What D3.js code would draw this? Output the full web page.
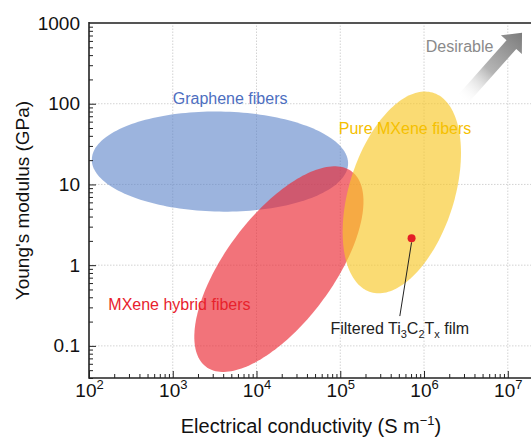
<!DOCTYPE html>
<html><head><meta charset="utf-8">
<script src="https://cdn.jsdelivr.net/npm/d3@7"></script>
<style>body{margin:0;background:#fff}svg{display:block;font-family:"Liberation Sans",Arial,Helvetica,sans-serif}</style>
</head><body><svg id="c" width="531" height="438"></svg>
<script>
// ---- data ----
const xTickValues = [1e2, 1e3, 1e4, 1e5, 1e6, 1e7];
const xTickExponents = ["2", "3", "4", "5", "6", "7"];
const yTickValues = [0.1, 1, 10, 100, 1000];
const yTickLabels = ["0.1", "1", "10", "100", "1000"];

const regionNames = ["Graphene fibers", "MXene hybrid fibers", "Pure MXene fibers"];
const regionCenterX = [3660, 18500, 5.43e5];      // S m-1
const regionCenterY = [19.2, 0.893, 7.96];        // GPa
const regionMajorDecades = [1.53, 1.49, 1.29];
const regionMinorDecades = [0.62, 0.65, 0.63];
const regionAngleDeg = [-1, 54.8, 73.5];
const regionLabelX = [1000, 170, 9.6e4];
const regionLabelY = [100, 0.278, 42];

const filmName = ["Filtered Ti", "3", "C", "2", "T", "x", " film"];
const filmX = 7.1e5, filmY = 2.15;
const filmLabelX = 5.14e5, filmLabelY = 0.14, filmLeaderEndY = 0.234;

const desirableLabel = "Desirable";
const desirableX = 1.05e6, desirableY = 438;
const arrowTail = [10 ** 6.45, 10 ** 2.04];
const arrowTip = [10 ** 7.17, 10 ** 2.88];

// ---- styles ----
const regionFill = ["rgb(90,130,200)", "rgb(235,40,50)", "rgb(247,200,40)"];
const regionOpacity = [0.6, 0.65, 0.65];
const regionLabelColors = ["#4d6ebf", "#e8222c", "#f5c000"];

const svg = d3.select("#c");
const W = 531, H = 438;
const x = d3.scaleLog().domain([1e2, 2e7]).range([89, 533]);
const y = d3.scaleLog().domain([0.04, 1000]).range([378, 23]);
const [x0, x1] = x.range(), [y0, y1] = y.range();

// grid
const grid = svg.append("g");
grid.selectAll("line.v").data(xTickValues.filter(v => v > 1e2)).join("line")
  .attr("x1", d => x(d)).attr("x2", d => x(d)).attr("y1", y0).attr("y2", y1)
  .attr("stroke", "#c8c8c8").attr("stroke-width", 0.8).attr("stroke-dasharray", "1.5,1.5");
grid.selectAll("line.h").data(yTickValues.filter(v => v < 1000)).join("line")
  .attr("y1", d => y(d)).attr("y2", d => y(d)).attr("x1", x0).attr("x2", W)
  .attr("stroke", "#c8c8c8").attr("stroke-width", 0.8).attr("stroke-dasharray", "1.5,1.5");

// ellipses
const line = d3.line().curve(d3.curveLinearClosed);
regionNames.forEach((n, i) => {
  const cx = Math.log10(regionCenterX[i]), cy = Math.log10(regionCenterY[i]);
  const a = regionMajorDecades[i], b = regionMinorDecades[i];
  const th = regionAngleDeg[i] * Math.PI / 180;
  const pts = d3.range(0, 180).map(k => {
    const t = k / 180 * 2 * Math.PI;
    const lx = cx + a * Math.cos(t) * Math.cos(th) - b * Math.sin(t) * Math.sin(th);
    const ly = cy + a * Math.cos(t) * Math.sin(th) + b * Math.sin(t) * Math.cos(th);
    return [x(10 ** lx), y(10 ** ly)];
  });
  svg.append("path").attr("d", line(pts)).attr("fill", regionFill[i]).attr("fill-opacity", regionOpacity[i]);
});

// region labels
svg.selectAll("text.rl").data(regionNames).join("text")
  .attr("x", (d, i) => x(regionLabelX[i])).attr("y", (d, i) => y(regionLabelY[i]))
  .attr("fill", (d, i) => regionLabelColors[i]).attr("font-size", 16).text(d => d);

// film point
svg.append("line").attr("x1", x(filmX)).attr("y1", y(filmY) + 4)
  .attr("x2", x(filmLabelX)).attr("y2", y(filmLeaderEndY))
  .attr("stroke", "#222").attr("stroke-width", 1);
svg.append("circle").attr("cx", x(filmX)).attr("cy", y(filmY)).attr("r", 4).attr("fill", "#e41e26");
const ft = svg.append("text").attr("x", x(filmLabelX)).attr("y", y(filmLabelY))
  .attr("text-anchor", "middle").attr("font-size", 16).attr("fill", "#222");
filmName.forEach((s, i) => {
  const sub = i % 2 === 1 && i < 6;
  ft.append("tspan").attr("font-size", sub ? 11 : 16).attr("dy", sub ? 4 : (i > 0 ? -4 : 0)).text(s);
});

// desirable arrow
const grad = svg.append("defs").append("linearGradient").attr("id", "ag")
  .attr("gradientUnits", "userSpaceOnUse")
  .attr("x1", x(arrowTail[0])).attr("y1", y(arrowTail[1]))
  .attr("x2", x(arrowTip[0])).attr("y2", y(arrowTip[1]));
grad.append("stop").attr("offset", 0).attr("stop-color", "#ffffff").attr("stop-opacity", 0);
grad.append("stop").attr("offset", 0.45).attr("stop-color", "#b5b5b5");
grad.append("stop").attr("offset", 1).attr("stop-color", "#7c7c7c");
{
  const tx = x(arrowTail[0]), ty = y(arrowTail[1]), hx = x(arrowTip[0]), hy = y(arrowTip[1]);
  const L = Math.hypot(hx - tx, hy - ty), ux = (hx - tx) / L, uy = (hy - ty) / L, px = -uy, py = ux;
  const sw = 6.5, hw = 14, hl = 16;
  const bx = hx - ux * hl, by = hy - uy * hl;
  const P = [[tx + px * sw, ty + py * sw], [bx + px * sw, by + py * sw], [bx + px * hw, by + py * hw], [hx, hy],
    [bx - px * hw, by - py * hw], [bx - px * sw, by - py * sw], [tx - px * sw, ty - py * sw]];
  svg.append("path").attr("d", line(P)).attr("fill", "url(#ag)");
}
svg.append("text").attr("x", x(desirableX)).attr("y", y(desirableY)).attr("font-size", 16)
  .attr("fill", "#8a8a8a").text(desirableLabel);

// axes
const minorX = x.ticks().filter(v => !xTickValues.includes(v) && v < 2e7);
const minorY = y.ticks().filter(v => !yTickValues.some(t => Math.abs(t - v) / v < 1e-9));
const gx = svg.append("g").attr("transform", `translate(0,${y0})`);
gx.call(d3.axisBottom(x).tickValues(minorX).tickSize(-4).tickFormat(""));
gx.call(g => g.select(".domain").remove());
const gx2 = svg.append("g").attr("transform", `translate(0,${y0})`)
  .call(d3.axisBottom(x).tickValues(xTickValues).tickSize(-7).tickPadding(5.5).tickFormat(() => ""));
gx2.select(".domain").remove();
gx2.selectAll(".tick text").each(function (d, i) {
  const t = d3.select(this).attr("font-size", 19).attr("fill", "#111");
  t.append("tspan").text("10");
  t.append("tspan").attr("font-size", 13).attr("dy", "-0.65em").text(xTickExponents[i]);
});
svg.selectAll(".tick line").attr("stroke", "#222").attr("stroke-width", 1);

const gy = svg.append("g").attr("transform", `translate(${x0},0)`);
gy.call(d3.axisLeft(y).tickValues(minorY).tickSize(-4).tickFormat(""));
gy.select(".domain").remove();
const gy2 = svg.append("g").attr("transform", `translate(${x0},0)`)
  .call(d3.axisLeft(y).tickValues(yTickValues).tickSize(-7).tickPadding(9).tickFormat((d, i) => yTickLabels[i]));
gy2.select(".domain").remove();
gy2.selectAll(".tick text").attr("font-size", 19).attr("fill", "#111").attr("font-family", null);
gy.selectAll(".tick line, line").attr("stroke", "#222");
gy2.selectAll(".tick line").attr("stroke", "#222").attr("stroke-width", 1);
svg.selectAll("g").attr("font-family", null);

// frame
svg.append("line").attr("x1", x0).attr("x2", W).attr("y1", y1).attr("y2", y1).attr("stroke", "#555").attr("stroke-width", 2);
svg.append("line").attr("x1", x0).attr("x2", W).attr("y1", y0).attr("y2", y0).attr("stroke", "#222").attr("stroke-width", 1.6);
svg.append("line").attr("x1", x0).attr("x2", x0).attr("y1", y1 - 1).attr("y2", y0 + 0.8).attr("stroke", "#222").attr("stroke-width", 1.6);

// titles
const xt = svg.append("text").attr("x", (x0 + x1) / 2).attr("y", 433).attr("text-anchor", "middle")
  .attr("font-size", 20).attr("fill", "#111");
xt.append("tspan").text("Electrical conductivity (S m");
xt.append("tspan").attr("font-size", 13).attr("dy", -8).text("\u22121");
xt.append("tspan").attr("dy", 8).text(")");
svg.append("text").attr("transform", "rotate(-90)").attr("x", -(y0 + y1) / 2).attr("y", 29)
  .attr("text-anchor", "middle").attr("font-size", 19).attr("fill", "#111").text("Young's modulus (GPa)");
</script></body></html>
